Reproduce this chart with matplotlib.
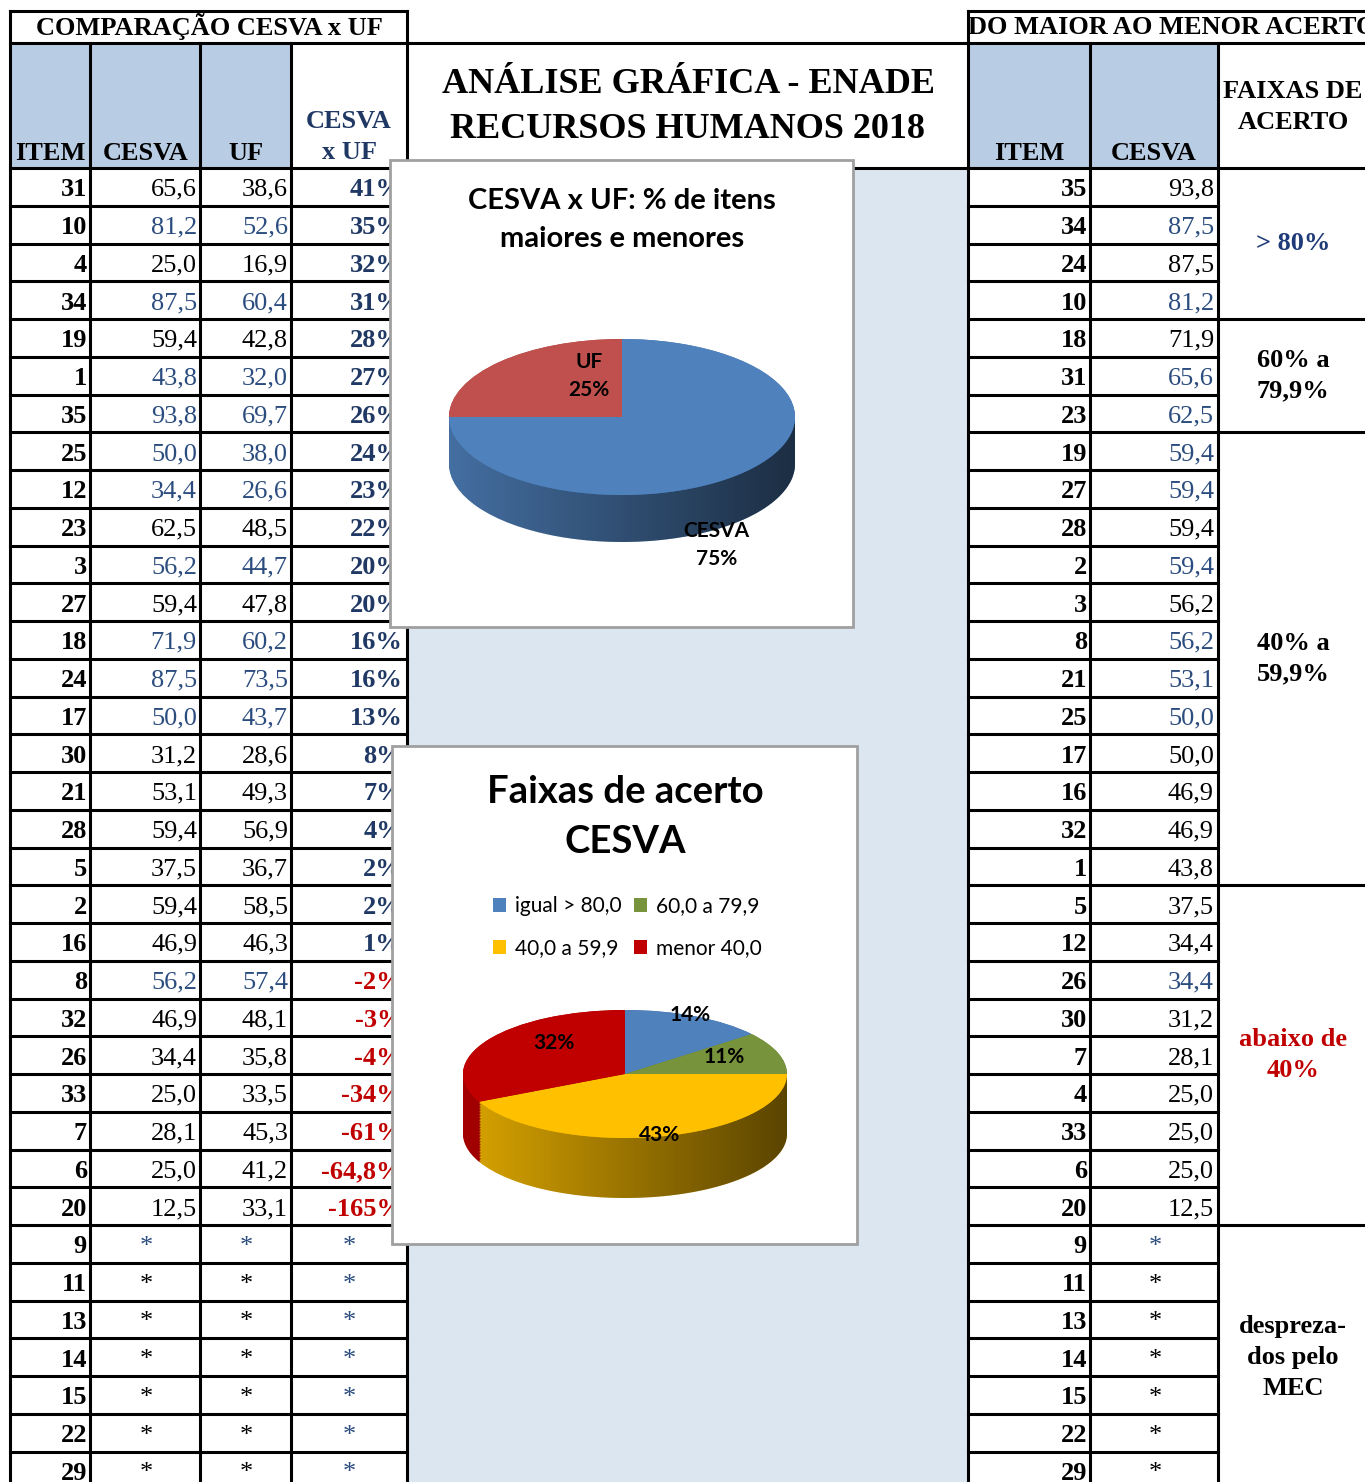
import numpy as np
import matplotlib
matplotlib.use('Agg')
import matplotlib.pyplot as plt
from matplotlib.patches import Rectangle, Polygon
from matplotlib.colors import to_rgb

# ---- data ----
left_items = [31, 10, 4, 34, 19, 1, 35, 25, 12, 23, 3, 27, 18, 24, 17, 30, 21, 28, 5, 2, 16,
              8, 32, 26, 33, 7, 6, 20]
left_cesva = [65.6, 81.2, 25.0, 87.5, 59.4, 43.8, 93.8, 50.0, 34.4, 62.5, 56.2, 59.4, 71.9, 87.5,
              50.0, 31.2, 53.1, 59.4, 37.5, 59.4, 46.9, 56.2, 46.9, 34.4, 25.0, 28.1, 25.0, 12.5]
left_uf = [38.6, 52.6, 16.9, 60.4, 42.8, 32.0, 69.7, 38.0, 26.6, 48.5, 44.7, 47.8, 60.2, 73.5,
           43.7, 28.6, 49.3, 56.9, 36.7, 58.5, 46.3, 57.4, 48.1, 35.8, 33.5, 45.3, 41.2, 33.1]
left_diff = ['41%', '35%', '32%', '31%', '28%', '27%', '26%', '24%', '23%', '22%', '20%', '20%',
             '16%', '16%', '13%', '8%', '7%', '4%', '2%', '2%', '1%', '-2%', '-3%', '-4%',
             '-34%', '-61%', '-64,8%', '-165%']
left_blue = [10, 34, 1, 35, 25, 12, 3, 18, 24, 17, 8]

right_items = [35, 34, 24, 10, 18, 31, 23, 19, 27, 28, 2, 3, 8, 21, 25, 17, 16, 32, 1, 5, 12,
               26, 30, 7, 4, 33, 6, 20]
right_cesva = [93.8, 87.5, 87.5, 81.2, 71.9, 65.6, 62.5, 59.4, 59.4, 59.4, 59.4, 56.2, 56.2, 53.1,
               50.0, 50.0, 46.9, 46.9, 43.8, 37.5, 34.4, 34.4, 31.2, 28.1, 25.0, 25.0, 25.0, 12.5]
right_blue = [34, 10, 31, 23, 19, 27, 2, 8, 21, 25, 26]

dropped = [9, 11, 13, 14, 15, 22, 29]

bands = ['> 80%', '60% a\n79,9%', '40% a\n59,9%', 'abaixo de\n40%', 'despreza-\ndos pelo\nMEC']
band_sizes = [4, 3, 12, 9, 7]
band_colors = ['#1F3A78', 'black', 'black', '#C00000', 'black']

cmp_labels = ['CESVA', 'UF']
cmp_counts = [21, 7]
faixa_labels = ['igual > 80,0', '60,0 a 79,9', '40,0 a 59,9', 'menor 40,0']
faixa_counts = [4, 3, 12, 9]

# ---- style ----
W, H = 1365, 1482
SERIF = 'Liberation Serif'
SANS = 'Lato'
FS = 19
BLUE = '#2B4C7E'
NAVY = '#1F3864'
RED = '#C00000'
HEAD = '#B8CCE4'
MID = '#DCE6F1'
LW = 2.2
ROW0, RH = 168, 37.75


def num(v):
    return f"{v:.1f}".replace('.', ',')


def darken(c, f):
    r, g, b = to_rgb(c)
    return (r * f, g * f, b * f)


fig = plt.figure(figsize=(W / 100, H / 100), dpi=100)
ax = fig.add_axes([0, 0, 1, 1])
ax.set_xlim(0, W)
ax.set_ylim(H, 0)
ax.axis('off')

# backgrounds
ax.add_patch(Rectangle((407, ROW0), 561, H - ROW0, facecolor=MID, edgecolor='none', zorder=0))
ax.add_patch(Rectangle((10, 43), 281, ROW0 - 43, facecolor=HEAD, edgecolor='none', zorder=0))
ax.add_patch(Rectangle((968, 43), 250, ROW0 - 43, facecolor=HEAD, edgecolor='none', zorder=0))


def hline(y, x0, x1):
    ax.plot([x0, x1], [y, y], color='black', lw=LW, zorder=2, solid_capstyle='projecting')


def vline(x, y0, y1):
    ax.plot([x, x], [y0, y1], color='black', lw=LW, zorder=2, solid_capstyle='projecting')


n_rows = len(left_items) + len(dropped)
hline(11, 10, 407)
hline(11, 968, W)
hline(43, 10, W)
hline(ROW0, 10, W)
for k in range(1, n_rows + 1):
    y = ROW0 + RH * k
    hline(y, 10, 407)
    hline(y, 968, 1218)
for k in np.cumsum(band_sizes):
    hline(ROW0 + RH * k, 1218, W)
vline(10, 11, H)
vline(407, 11, H)
vline(968, 11, H)
for x in (90, 200, 291, 1090, 1218):
    vline(x, 43, H)

tkw = dict(family=SERIF, fontsize=FS, zorder=3)

# headers
ax.text(209, 27, 'COMPARAÇÃO CESVA x UF', ha='center', va='center', fontweight='bold', **tkw)
ax.text(50, 153, 'ITEM', ha='center', va='center', fontweight='bold', **tkw)
ax.text(146, 153, 'CESVA', ha='center', va='center', fontweight='bold', **tkw)
ax.text(246, 153, 'UF', ha='center', va='center', fontweight='bold', **tkw)
ax.text(349, 137, 'CESVA\nx UF', ha='center', va='center', fontweight='bold', color=NAVY,
        linespacing=1.45, **tkw)
ax.text(688, 107, 'ANÁLISE GRÁFICA - ENADE\nRECURSOS HUMANOS 2018', ha='center', va='center',
        fontweight='bold', family=SERIF, fontsize=26, linespacing=1.47, zorder=3)
# the merged title cell is wider than the visible area, so the text is clipped like the sheet
t = ax.text(1172, 27, 'DO MAIOR AO MENOR ACERTO', ha='center', va='center', fontweight='bold', **tkw)
t.set_clip_path(Rectangle((968, 11), W - 968, 32, transform=ax.transData))
ax.text(1029, 153, 'ITEM', ha='center', va='center', fontweight='bold', **tkw)
ax.text(1154, 153, 'CESVA', ha='center', va='center', fontweight='bold', **tkw)
ax.text(1293, 107, 'FAIXAS DE\nACERTO', ha='center', va='center', fontweight='bold',
        linespacing=1.45, **tkw)

# left table body
for i, (item, c, u, d) in enumerate(zip(left_items, left_cesva, left_uf, left_diff)):
    y = ROW0 + RH * (i + 0.5) + 3
    col = BLUE if item in left_blue else 'black'
    ax.text(87, y, str(item), ha='right', va='center', fontweight='bold', **tkw)
    ax.text(197, y, num(c), ha='right', va='center', color=col, **tkw)
    ax.text(288, y, num(u), ha='right', va='center', color=col, **tkw)
    ax.text(403, y, d, ha='right', va='center', fontweight='bold',
            color=RED if d.startswith('-') else NAVY, **tkw)
for j, item in enumerate(dropped):
    y = ROW0 + RH * (len(left_items) + j + 0.5) + 3
    col = BLUE if item == 9 else 'black'
    ax.text(87, y, str(item), ha='right', va='center', fontweight='bold', **tkw)
    ax.text(146, y, '*', ha='center', va='center', color=col, **tkw)
    ax.text(246, y, '*', ha='center', va='center', color=col, **tkw)
    ax.text(349, y, '*', ha='center', va='center', color=BLUE, **tkw)

# right table body
for i, (item, c) in enumerate(zip(right_items, right_cesva)):
    y = ROW0 + RH * (i + 0.5) + 3
    col = BLUE if item in right_blue else 'black'
    ax.text(1087, y, str(item), ha='right', va='center', fontweight='bold', **tkw)
    ax.text(1214, y, num(c), ha='right', va='center', color=col, **tkw)
for j, item in enumerate(dropped):
    y = ROW0 + RH * (len(right_items) + j + 0.5) + 3
    ax.text(1087, y, str(item), ha='right', va='center', fontweight='bold', **tkw)
    ax.text(1155, y, '*', ha='center', va='center', color=BLUE if item == 9 else 'black', **tkw)

start = 0
for lab, n, col in zip(bands, band_sizes, band_colors):
    yc = ROW0 + RH * (start + n / 2)
    ax.text(1293, yc, lab, ha='center', va='center', fontweight='bold', color=col,
            linespacing=1.45, **tkw)
    start += n

# chart boxes
box1 = (390, 160, 853, 627)
box2 = (392, 746, 857, 1244)
for x0, y0, x1, y1 in (box1, box2):
    ax.add_patch(Rectangle((x0, y0), x1 - x0, y1 - y0, facecolor='white', edgecolor='#A0A0A0',
                           lw=2, zorder=5))

ax.text(622, 220, 'CESVA x UF: % de itens\nmaiores e menores', ha='center', va='center',
        family=SANS, fontweight='bold', fontsize=21, linespacing=1.6, zorder=6)
ax.text(625, 817, 'Faixas de acerto\nCESVA', ha='center', va='center',
        family=SANS, fontweight='bold', fontsize=27.5, linespacing=1.6, zorder=6)


def draw_pie(counts, colors, cx, cy, rx, ry, depth, box, texts, dists, dys, fs):
    x0, y0, x1, y1 = box
    pax = fig.add_axes([x0 / W, 1 - y1 / H, (x1 - x0) / W, (y1 - y0) / H])
    d = depth / ry
    side_cols = [darken(c, 0.88) for c in colors]
    # stacked copies shifted down make the side of the disc
    for k in np.linspace(d, 0, 40):
        pax.pie(counts, colors=side_cols, center=(0, -k), startangle=90, counterclock=False,
                wedgeprops=dict(linewidth=0, zorder=1))
    tt = np.linspace(np.pi, 2 * np.pi, 200)
    pts = np.vstack([np.column_stack([np.cos(tt), np.sin(tt)]),
                     np.column_stack([np.cos(tt[::-1]), np.sin(tt[::-1]) - d])])
    side = Polygon(pts, closed=True, transform=pax.transData)
    grad = np.zeros((1, 256, 4))
    grad[..., 3] = np.linspace(0.03, 0.6, 256)
    im = pax.imshow(grad, extent=(-1, 1, -1 - d, 0), aspect='auto', zorder=2,
                    interpolation='bilinear')
    im.set_clip_path(side)
    wedges, _ = pax.pie(counts, colors=colors, startangle=90, counterclock=False,
                        wedgeprops=dict(linewidth=0, zorder=3))
    pax.set_aspect('auto')
    pax.set_xlim((x0 - cx) / rx, (x1 - cx) / rx)
    pax.set_ylim(-(y1 - cy) / ry, (cy - y0) / ry)
    for w, txt, dd, dy in zip(wedges, texts, dists, dys):
        th = np.deg2rad((w.theta1 + w.theta2) / 2)
        pax.text(dd * np.cos(th), dd * np.sin(th) + dy, txt, ha='center', va='center',
                 family=SANS, fontweight='bold', fontsize=fs, linespacing=1.5, zorder=4)
    return pax, wedges


tot1 = sum(cmp_counts)
texts1 = [f"{lab}\n{round(100 * c / tot1)}%" for lab, c in zip(cmp_labels, cmp_counts)]
draw_pie(cmp_counts, ['#4F81BD', '#C0504D'], 622, 417, 173, 78, 47, box1,
         texts1, [0.77, 0.27], [-1.1, 0.34], 15)

tot2 = sum(faixa_counts)
texts2 = [f"{round(100 * c / tot2)}%" for c in faixa_counts]
pax2, w2 = draw_pie(faixa_counts, ['#4F81BD', '#77933C', '#FFC000', '#C00000'],
                    625, 1074, 162, 64, 60, box2, texts2,
                    [0.93, 0.65, 0.95, 0.52], [0.08, 0.05, -0.02, 0.2], 15)

order = [0, 2, 1, 3]
pax2.legend([w2[i] for i in order], [faixa_labels[i] for i in order], ncol=2,
            loc='center', bbox_to_anchor=(627, 927), bbox_transform=ax.transData,
            frameon=False, prop=dict(family=SANS, size=15), handlelength=0.65,
            handleheight=0.65, handletextpad=0.4, columnspacing=0.6, labelspacing=1.05)

fig.savefig('out.png', dpi=100)
